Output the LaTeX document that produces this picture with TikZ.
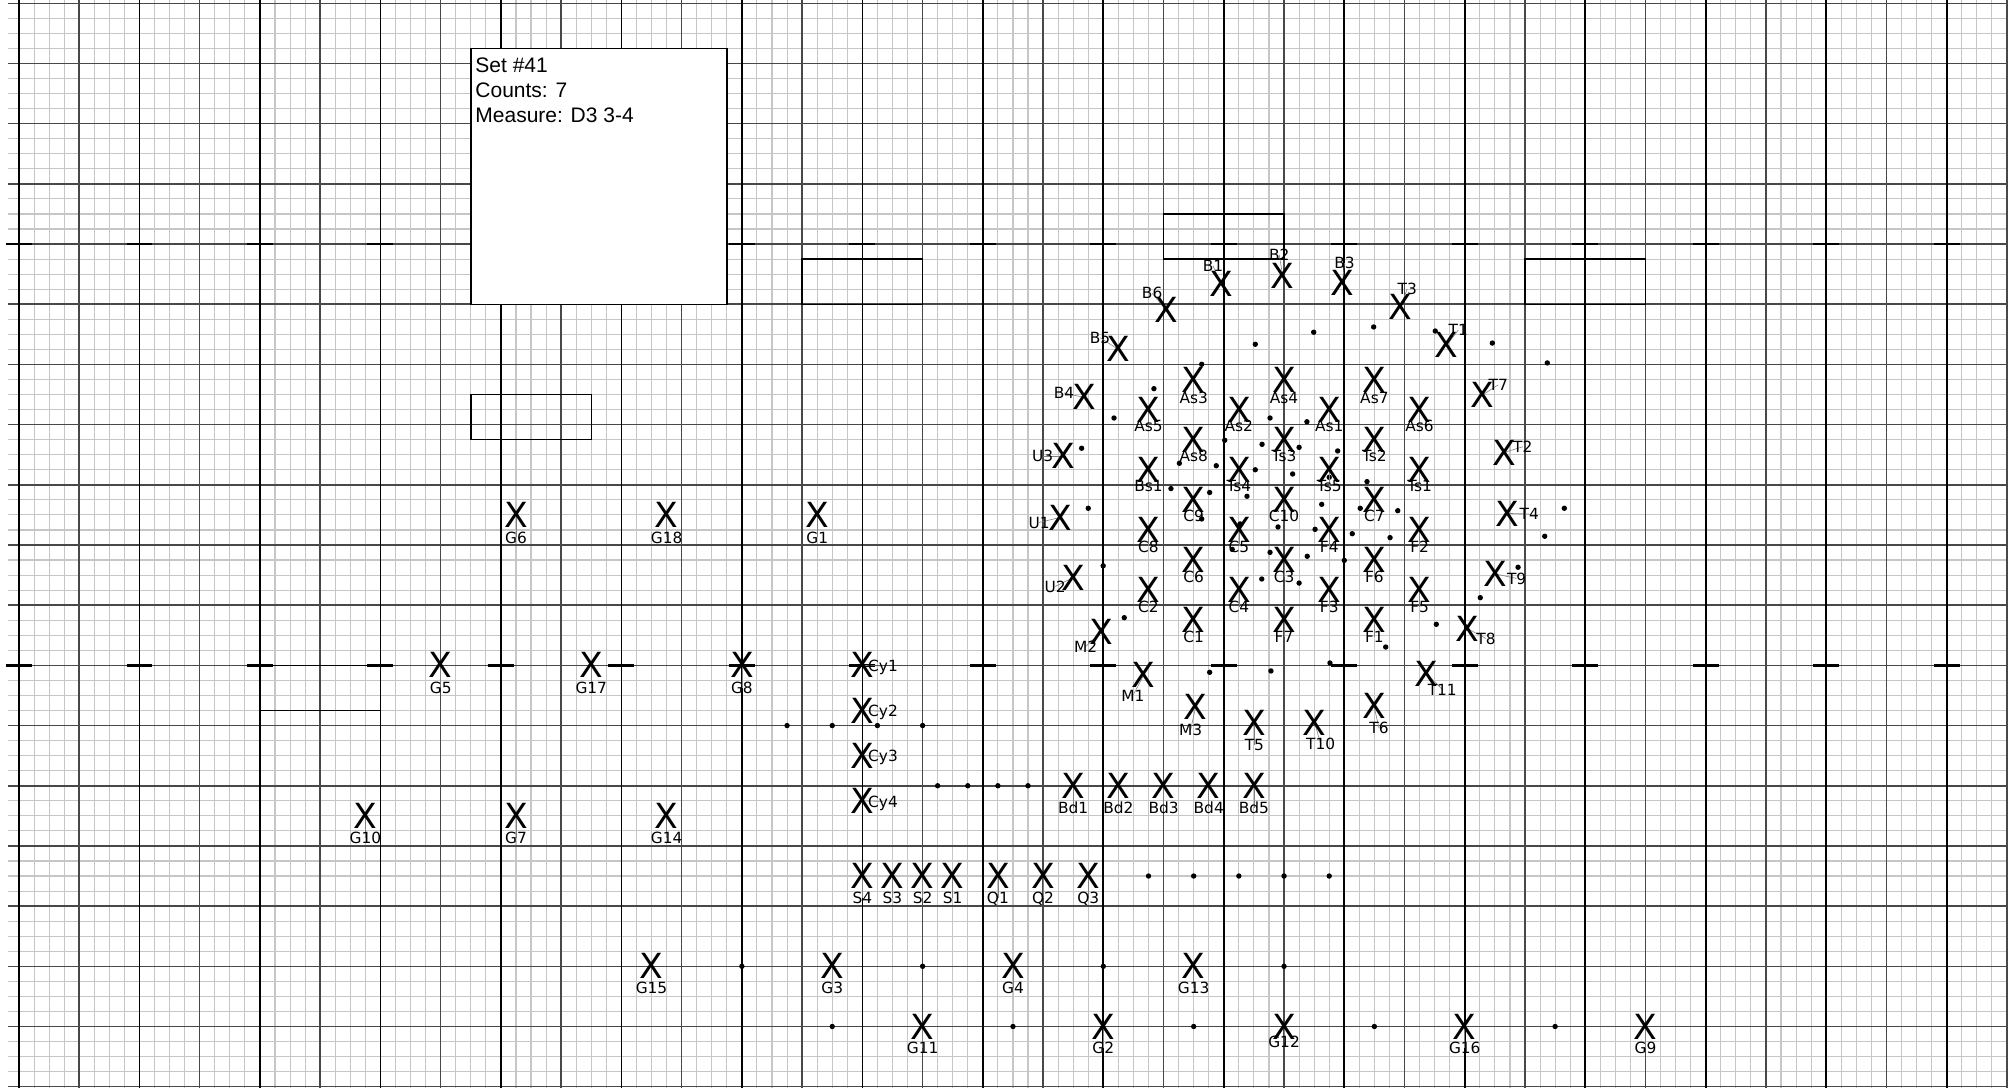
\documentclass[tikz,border=0pt]{standalone}
\usepackage{fontspec}
\setmainfont{Liberation Sans}
\newfontfamily\dv{DejaVu Sans}
\definecolor{minorc}{RGB}{198,198,198}
\definecolor{majorc}{RGB}{72,72,72}
\definecolor{leadc}{RGB}{130,130,130}
\tikzset{
  minorline/.style={draw=minorc, line width=0.55pt},
  majorline/.style={draw=majorc, line width=0.75pt},
  yardline/.style={draw=black, line width=0.85pt},
  hashmark/.style={draw=black, line width=1.2pt},
  openbox/.style={draw=black, line width=0.7pt},
  xmark/.style={inner sep=0pt, outer sep=0pt, text height=12.6pt, text depth=0pt,
    font=\dv\fontsize{17.3pt}{18pt}\selectfont},
  mlabel/.style={inner sep=0pt, outer sep=0pt, text height=5.6pt, text depth=0pt,
    font=\dv\fontsize{7.7pt}{8pt}\selectfont},
  leader/.style={draw=leadc, line width=0.3pt},
  boxtext/.style={inner sep=0pt, anchor=base west, font=\fontsize{10.5pt}{12.5pt}\selectfont},
}
\newcommand\mk[6]{%
  \coordinate (#1p) at (#2,#3);
  \coordinate (#1q) at ([xshift={(#5)*0.5pt}, yshift={-(#6)*0.5pt}]#1p);
  \draw[leader] (#1p) -- (#1q);
  \node[xmark] (#1x) at (#1p) {X};
  \node[mlabel] (#1t) at (#1q) {#4};
}
\begin{document}
\begin{tikzpicture}
\useasboundingbox (0,0) rectangle (1007.5pt,-544pt);
\begin{scope}[shift={(9.5pt,-1.65pt)}, x=7.53pt, y=-7.5235pt]
% grid
\draw[minorline] foreach \i in {0,...,132} {(\i,-0.22) -- (\i,72.09)};
\draw[minorline] foreach \j in {0,...,72} {(-0.73,\j) -- (132,\j)};
\draw[majorline] foreach \i in {0,4,...,132} {(\i,-0.22) -- (\i,72.09)};
\draw[majorline] foreach \j in {0,4,...,72} {(-0.73,\j) -- (132,\j)};
\draw[yardline] foreach \i in {0,8,...,128} {(\i,-0.22) -- (\i,72.09)};
\draw[hashmark] foreach \i in {0,8,...,128} {(\i-0.86,16) -- (\i+0.86,16) (\i-0.86,44) -- (\i+0.86,44)};
% open boxes
\draw[openbox] (52,17) rectangle (60,20);
\draw[openbox] (76,14) rectangle (84,17);
\draw[openbox] (100,17) rectangle (108,20);
\draw[openbox] (30,26) rectangle (38,29);
\draw[openbox] (16,44) rectangle (24,47);
% info box
\draw[openbox, fill=white] (30,3) rectangle (47,20);
\node[boxtext] (info1) at (30.28,4.61) {Set \#41};
\node[boxtext] (info2) at (30.28,6.27) {Counts: 7};
\node[boxtext] (info3) at (30.28,7.91) {Measure: D3 3-4};
% dots
\foreach \p in {(82.09,22.66),(85.97,21.86),(89.95,21.51),(94.04,21.78),(97.83,22.58),(101.48,23.9),
  (102.61,33.56),(101.31,35.42),(99.54,37.48),(97.03,39.5),(94.11,41.27),(90.75,42.78),(87.05,43.84),
  (83.13,44.37),(79.06,44.46),(73.39,40.83),(71.99,37.38),(71.0,33.56),(70.56,29.57),(72.71,27.56),
  (75.36,25.61),(78.53,23.99),
  (83.07,27.56),(85.52,27.81),(80.06,29.04),(82.54,29.31),(85.0,29.51),(87.56,29.75),
  (77.05,30.57),(79.5,30.73),(82.09,31.0),(84.57,31.28),(87.0,31.5),(89.51,31.79),
  (76.49,32.25),(79.06,32.51),(81.54,32.76),(78.53,34.27),(81.08,34.6),(83.6,34.8),
  (86.5,33.3),(86.06,34.96),(89.06,33.56),(91.55,33.72),(88.53,35.25),(91.04,35.51),
  (80.56,36.29),(83.07,36.49),(85.54,36.75),(88.0,37.02),(82.52,38.26),(85.0,38.53),
  (51,48),(54,48),(57,48),(60,48),(61,52),(63,52),(65,52),(67,52),
  (75,58),(78,58),(81,58),(84,58),(87,58),
  (48,64),(60,64),(72,64),(84,64),(54,68),(66,68),(78,68),(90,68),(102,68)}
  {\fill[black] \p circle (1.35pt);}
% markers: name, gx, gy, label, dx px, dy px
\mk{Gsix}{33}{34}{G6}{0}{22.5}
\mk{Geighteen}{43}{34}{G18}{0}{22.5}
\mk{Gone}{53}{34}{G1}{0}{22.5}
\mk{Gfive}{28}{44}{G5}{0}{22.5}
\mk{Gseventeen}{38}{44}{G17}{0}{22.5}
\mk{Geight}{48}{44}{G8}{0}{22.5}
\mk{Gten}{23}{54}{G10}{0}{22.5}
\mk{Gseven}{33}{54}{G7}{0}{22.5}
\mk{Gfourteen}{43}{54}{G14}{0}{22.5}
\mk{Gfifteen}{42}{64}{G15}{0}{22}
\mk{Gthree}{54}{64}{G3}{0}{22}
\mk{Gfour}{66}{64}{G4}{0}{22}
\mk{Gthirteen}{78}{64}{G13}{0}{22}
\mk{Geleven}{60}{68}{G11}{0}{21.5}
\mk{Gtwo}{72}{68}{G2}{0}{21.5}
\mk{Gtwelve}{84}{68}{G12}{0}{15.5}
\mk{Gsixteen}{96}{68}{G16}{0}{21.5}
\mk{Gnine}{108}{68}{G9}{0}{21.5}
\mk{Cya}{56}{44}{Cy1}{20.7}{0.7}
\mk{Cyb}{56}{47}{Cy2}{20.7}{0.7}
\mk{Cyc}{56}{50}{Cy3}{20.7}{0.7}
\mk{Cyd}{56}{53}{Cy4}{20.7}{0.7}
\mk{Bda}{70}{52}{Bd1}{0}{22.5}
\mk{Bdb}{73}{52}{Bd2}{0}{22.5}
\mk{Bdc}{76}{52}{Bd3}{0}{22.5}
\mk{Bdd}{79}{52}{Bd4}{0}{22.5}
\mk{Bde}{82}{52}{Bd5}{0}{22.5}
\mk{Sd}{56}{58}{S4}{0}{22}
\mk{Sc}{58}{58}{S3}{0}{22}
\mk{Sb}{60}{58}{S2}{0}{22}
\mk{Sa}{62}{58}{S1}{0}{22}
\mk{Qa}{65}{58}{Q1}{0}{22}
\mk{Qb}{68}{58}{Q2}{0}{22}
\mk{Qc}{71}{58}{Q3}{0}{22}
% cluster
\mk{Asc}{78}{25}{As3}{0}{18}
\mk{Asd}{84}{25}{As4}{0}{18}
\mk{Asg}{90}{25}{As7}{0}{18}
\mk{Ase}{75}{27}{As5}{0}{16.5}
\mk{Asb}{81}{27}{As2}{0}{16.5}
\mk{Asa}{87}{27}{As1}{0}{16.5}
\mk{Asf}{93}{27}{As6}{0}{16.5}
\mk{Ash}{78}{29}{As8}{0}{16.5}
\mk{Tsc}{84}{29}{Ts3}{0}{16.5}
\mk{Tsb}{90}{29}{Ts2}{0}{16.5}
\mk{Bsa}{75}{31}{Bs1}{0}{16.5}
\mk{Tsd}{81}{31}{Ts4}{0}{16.5}
\mk{Tse}{87}{31}{Ts5}{0}{16.5}
\mk{Tsa}{93}{31}{Ts1}{0}{16.5}
\mk{Ci}{78}{33}{C9}{0}{16.5}
\mk{Cj}{84}{33}{C10}{0}{16.5}
\mk{Cg}{90}{33}{C7}{0}{16.5}
\mk{Ch}{75}{35}{C8}{0}{16.5}
\mk{Ce}{81}{35}{C5}{0}{16.5}
\mk{Fd}{87}{35}{F4}{0}{16.5}
\mk{Fb}{93}{35}{F2}{0}{16.5}
\mk{Cf}{78}{37}{C6}{0}{16.5}
\mk{Cc}{84}{37}{C3}{0}{16.5}
\mk{Ff}{90}{37}{F6}{0}{16.5}
\mk{Cb}{75}{39}{C2}{0}{16.5}
\mk{Cd}{81}{39}{C4}{0}{16.5}
\mk{Fc}{87}{39}{F3}{0}{16.5}
\mk{Fe}{93}{39}{F5}{0}{16.5}
\mk{Ca}{78}{41}{C1}{0}{16.5}
\mk{Fg}{84}{41}{F7}{0}{16.5}
\mk{Fa}{90}{41}{F1}{0}{16.5}
% arc
\mk{Ba}{79.84}{18.66}{B1}{-8.4}{-18.3}
\mk{Bb}{83.91}{18.12}{B2}{-3.4}{-21}
\mk{Bc}{87.88}{18.59}{B3}{2}{-20}
\mk{Bf}{76.17}{20.38}{B6}{-14}{-16.6}
\mk{Be}{73}{23}{B5}{-18.3}{-11.6}
\mk{Bd}{70.72}{26.19}{B4}{-20}{-4.4}
\mk{Uc}{69.34}{30.1}{U3}{-20.6}{0}
\mk{Ua}{69.12}{34.17}{U1}{-20.7}{5}
\mk{Ub}{70.01}{38.16}{U2}{-18.3}{9}
\mk{Mb}{71.89}{41.75}{M2}{-16}{15}
\mk{Ma}{74.69}{44.64}{M1}{-11}{20.7}
\mk{Mc}{78.13}{46.75}{M3}{-5}{23}
\mk{Te}{82.03}{47.79}{T5}{0}{22.6}
\mk{Tj}{86.03}{47.79}{T10}{6}{21.6}
\mk{Tf}{89.97}{46.68}{T6}{5}{22.3}
\mk{Tk}{93.47}{44.54}{T11}{15.6}{16}
\mk{Th}{96.17}{41.55}{T8}{18.7}{10}
\mk{Ti}{98.05}{37.93}{T9}{21}{4.4}
\mk{Td}{98.85}{33.9}{T4}{21.6}{0.6}
\mk{Tb}{98.61}{29.85}{T2}{18.7}{-5.7}
\mk{Tg}{97.19}{26.02}{T7}{15.6}{-10}
\mk{Ta}{94.8}{22.73}{T1}{11.6}{-15.3}
\mk{Tc}{91.7}{20.19}{T3}{7.3}{-18.3}
\end{scope}
\end{tikzpicture}
\end{document}
